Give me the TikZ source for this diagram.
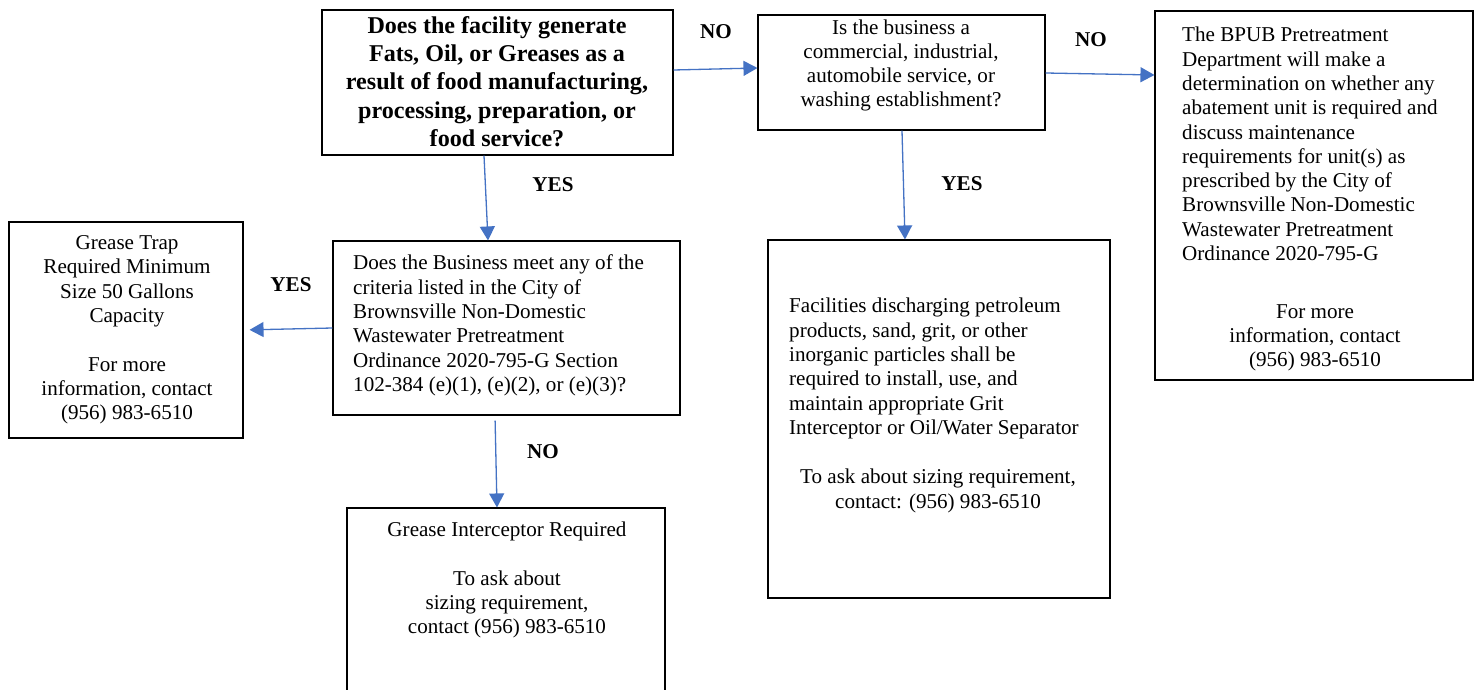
\documentclass[tikz,border=0pt]{standalone}
\usepackage{fontspec}
\setmainfont{Liberation Serif}
\usetikzlibrary{arrows.meta}
\definecolor{flowblue}{HTML}{4472C4}
\tikzset{
  box/.style={draw=black, line width=1.1pt, inner sep=0pt, fill=none},
  txt/.style={inner sep=0pt, font=\fontsize{21.1}{24.3}\selectfont},
  boldtxt/.style={inner sep=0pt, font=\fontsize{24.1}{28.3}\selectfont\bfseries, align=center},
  lbl/.style={inner sep=0pt, font=\fontsize{21.1}{24.3}\selectfont\bfseries},
  flow/.style={draw=flowblue, line width=1.3pt, -{Triangle[length=14pt,width=15pt]}}
}
\begin{document}
\begin{tikzpicture}[x=1pt,y=-1pt]
\clip (0,0) rectangle (1480,690);
\fill[white] (0,0) rectangle (1480,690);
% boxes
\node[box, minimum width=351pt, minimum height=145pt] (q1) at (497.5,82.5) {};
\node[box, minimum width=287pt, minimum height=115pt] (q2) at (901.5,72.5) {};
\node[box, minimum width=318pt, minimum height=369pt] (bpub) at (1314,195.5) {};
\node[box, minimum width=234pt, minimum height=216pt] (gt) at (126,330) {};
\node[box, minimum width=347pt, minimum height=174pt] (q3) at (506.5,328) {};
\node[box, minimum width=318pt, minimum height=212pt] (gi) at (506,614) {};
\node[box, minimum width=342pt, minimum height=358pt] (fac) at (939,419) {};
% texts
\node[boldtxt] (q1t) at (497,81.5) {Does the facility generate\\Fats, Oil, or Greases as a\\result of food manufacturing,\\processing, preparation, or\\food service?};
\node[txt, align=center] (q2t) at (901,65.5) {Is the business a\\commercial, industrial,\\automobile service, or\\washing establishment?};
\node[txt, align=left, anchor=west] (bpubt) at (1182,144) {The BPUB Pretreatment\\Department will make a\\determination on whether any\\abatement unit is required and\\discuss maintenance\\requirements for unit(s) as\\prescribed by the City of\\Brownsville Non-Domestic\\Wastewater Pretreatment\\Ordinance 2020-795-G};
\node[txt, align=center] (bpubc) at (1315,338) {For more\\information, contact\\(956) 983-6510};
\node[txt, align=center] (gtt) at (127,330) {Grease Trap\\Required Minimum\\Size 50 Gallons\\Capacity\\[24.3pt]For more\\information, contact\\(956) 983-6510};
\node[txt, align=left, anchor=west] (q3t) at (353,325.5) {Does the Business meet any of the\\criteria listed in the City of\\Brownsville Non-Domestic\\Wastewater Pretreatment\\Ordinance 2020-795-G Section\\102-384 (e)(1), (e)(2), or (e)(3)?};
\node[txt, align=center] (git) at (507,580) {Grease Interceptor Required\\[24.3pt]To ask about\\sizing requirement,\\contact (956) 983-6510};
\node[txt, align=left, anchor=west] (fact) at (789,368.5) {Facilities discharging petroleum\\products, sand, grit, or other\\inorganic particles shall be\\required to install, use, and\\maintain appropriate Grit\\Interceptor or Oil/Water Separator};
\node[txt, align=center] (facc) at (938,491) {To ask about sizing requirement,\\contact: (956) 983-6510};
% labels
\node[lbl] (l1) at (716,32) {NO};
\node[lbl] (l2) at (1091,40) {NO};
\node[lbl] (l3) at (553,185) {YES};
\node[lbl] (l4) at (962,184) {YES};
\node[lbl] (l5) at (291,285) {YES};
\node[lbl] (l6) at (543,452) {NO};
% connectors
\draw[flow] ([yshift=12.5pt]q1.east) -- ([yshift=4.5pt]q2.west);
\draw[flow] ([yshift=-0.5pt]q2.east) -- ([yshift=120.5pt]bpub.west);
\draw[flow] ([xshift=-13.5pt]q1.south) -- ([xshift=-18.5pt]q3.north);
\draw[flow] ([xshift=0.5pt]q2.south) -- ([xshift=-34pt]fac.north);
\draw[flow, shorten >=6pt] (q3.west) -- (gt.east);
\draw[flow, shorten <=5pt] ([xshift=-11.5pt]q3.south) -- ([xshift=-9pt]gi.north);
\end{tikzpicture}
\end{document}
